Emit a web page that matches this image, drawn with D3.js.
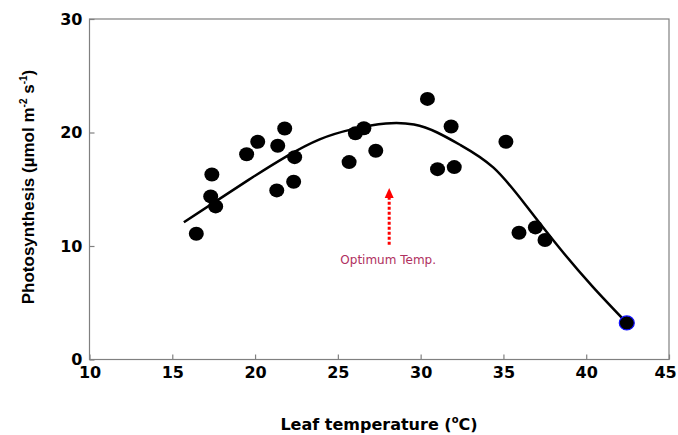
<!DOCTYPE html>
<html>
<head>
<meta charset="utf-8">
<script src="https://cdn.jsdelivr.net/npm/d3@7"></script>
<style>
  body { margin: 0; background: #fff; }
  text { font-family: "DejaVu Sans", sans-serif; }
</style>
</head>
<body>
<svg id="plot" width="678" height="435"></svg>
<script>

// measured points (leaf temp, photosynthesis)
var temps = [16.45, 17.39, 17.32, 17.62, 19.49, 20.16, 21.37, 21.79, 22.39, 21.31, 22.33,
             25.68, 26.06, 26.57, 27.29, 30.41, 31.84, 31.02, 32.03, 35.15, 35.94, 36.93, 37.51, 42.45];
var rates = [11.08, 16.30, 14.37, 13.49, 18.09, 19.18, 18.83, 20.35, 17.83, 14.90, 15.66,
             17.39, 19.94, 20.38, 18.39, 22.96, 20.53, 16.77, 16.95, 19.18, 11.17, 11.64, 10.53, 3.22];

// fitted curve
var fitX = [15.7, 17.9, 19.9, 21.9, 23.9, 25.9, 27.9, 29.6, 31.0, 32.4, 34.4, 36.4, 38.4, 40.4, 42.4];
var fitY = [12.1, 14.2, 16.1, 17.9, 19.4, 20.3, 20.8, 20.7, 20.0, 18.9, 16.9, 13.5, 9.8, 6.4, 3.3];

var xTicks = [10, 15, 20, 25, 30, 35, 40, 45];
var yTicks = [0, 10, 20, 30];

// optimum temperature marker
var optTemp = 28.1, arrowFrom = 10.1, arrowTo = 15.1, optLabel = "Optimum Temp.";

var svg = d3.select("#plot");

var x = d3.scaleLinear().domain([10, 45]).range([89.5, 669]);
var y = d3.scaleLinear().domain([0, 30]).range([359.5, 19]);

// frame
svg.append("rect")
  .attr("x", x(10)).attr("y", y(30))
  .attr("width", x(45) - x(10)).attr("height", y(0) - y(30))
  .attr("fill", "none").attr("stroke", "#808080").attr("stroke-width", 1.2);

var xAxis = d3.axisBottom(x).tickValues(xTicks).tickSizeInner(-5).tickSizeOuter(0).tickPadding(10);
var yAxis = d3.axisLeft(y).tickValues(yTicks).tickSizeInner(-5).tickSizeOuter(0).tickPadding(7);

var gx = svg.append("g")
  .attr("class", "x axis")
  .attr("transform", "translate(0," + y(0) + ")")
  .call(xAxis);

var gy = svg.append("g")
  .attr("class", "y axis")
  .attr("transform", "translate(" + x(10) + ",0)")
  .call(yAxis);

[gx, gy].forEach(function(g) {
  g.select(".domain").remove();
  g.selectAll("line").attr("stroke", "#808080").attr("stroke-width", 1.2);
  g.selectAll("text")
    .attr("fill", "#000")
    .style("font-size", "16px")
    .style("font-weight", "bold")
    .style("font-family", "'DejaVu Sans', sans-serif");
});
gx.selectAll("text").attr("dy", "0.55em");
// last label sits against the window edge
gx.selectAll("text").filter(function(d) { return d == 45; }).attr("dx", -4);

// fitted curve
var fit = fitX.map(function(d, i) { return [d, fitY[i]]; });
var line = d3.line()
  .x(function(d) { return x(d[0]); })
  .y(function(d) { return y(d[1]); })
  .curve(d3.curveNatural);

svg.append("path")
  .datum(fit)
  .attr("d", line)
  .attr("fill", "none")
  .attr("stroke", "#000")
  .attr("stroke-width", 2.5);

// points
var pts = temps.map(function(d, i) { return [d, rates[i]]; });
svg.selectAll("ellipse.pt")
  .data(pts)
  .enter()
  .append("ellipse")
  .attr("class", "pt")
  .attr("cx", function(d) { return x(d[0]); })
  .attr("cy", function(d) { return y(d[1]); })
  .attr("rx", 7.5)
  .attr("ry", 7)
  .attr("fill", "#000")
  .attr("stroke", function(d, i) { return i == pts.length - 1 ? "#1010ff" : "none"; })
  .attr("stroke-width", 1.2);

// optimum arrow
svg.append("line")
  .attr("x1", x(optTemp)).attr("x2", x(optTemp))
  .attr("y1", y(arrowFrom)).attr("y2", y(arrowTo) + 10)
  .attr("stroke", "#ff0000")
  .attr("stroke-width", 3)
  .attr("stroke-dasharray", "3,2");

svg.append("path")
  .attr("d", "M" + (x(optTemp) - 4.5) + "," + (y(arrowTo) + 10) +
             "L" + (x(optTemp) + 4.5) + "," + (y(arrowTo) + 10) +
             "L" + x(optTemp) + "," + y(arrowTo) + "Z")
  .attr("fill", "#ff0000");

svg.append("text")
  .attr("x", x(optTemp) - 1)
  .attr("y", y(arrowFrom) + 19)
  .attr("text-anchor", "middle")
  .attr("fill", "#b03060")
  .style("font-size", "12px")
  .text(optLabel);

// axis titles
var xt = svg.append("text")
  .attr("x", 379)
  .attr("y", 430)
  .attr("text-anchor", "middle")
  .style("font-size", "16px")
  .style("font-weight", "bold");
xt.append("tspan").text("Leaf temperature (");
xt.append("tspan").attr("font-size", "10px").attr("dy", -7).text("o");
xt.append("tspan").attr("dy", 7).text("C)");

var yt = svg.append("text")
  .attr("transform", "translate(34,187) rotate(-90)")
  .attr("text-anchor", "middle")
  .style("font-family", "Arial, 'Liberation Sans', sans-serif")
  .style("font-size", "17px")
  .style("font-weight", "bold");
yt.append("tspan").text("Photosynthesis  (\u00b5mol m");
yt.append("tspan").attr("font-size", "10px").attr("dy", -7).text("-2");
yt.append("tspan").attr("dy", 7).text(" s");
yt.append("tspan").attr("font-size", "10px").attr("dy", -7).text("-1");
yt.append("tspan").attr("dy", 7).text(")");

</script>
</body>
</html>
